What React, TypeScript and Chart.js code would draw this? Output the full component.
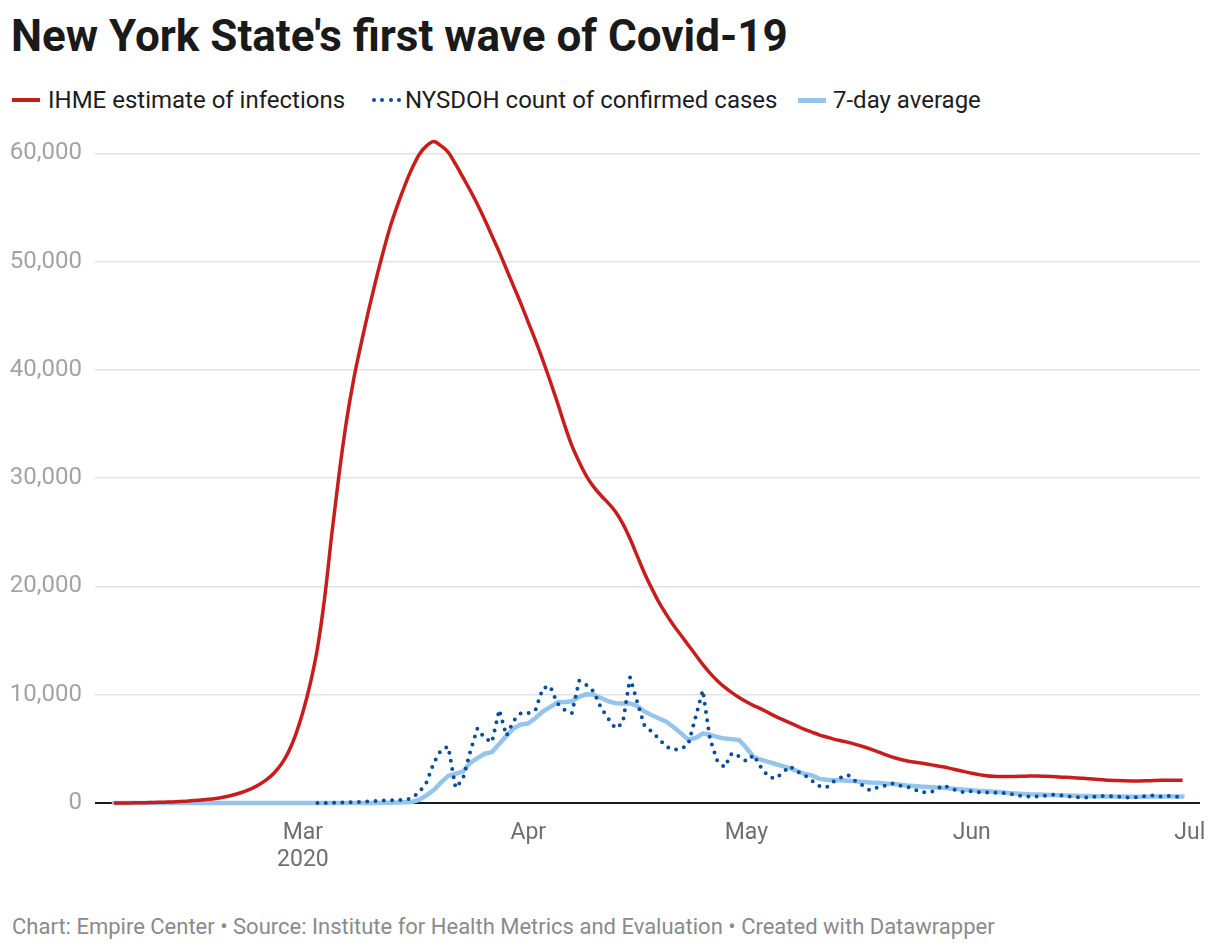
import React, { useEffect, useRef } from "react";
import { Chart, registerables } from "chart.js";

Chart.register(...registerables);

// ---------- DATA ----------
const axisOrigin = "2020-02-01"; // day 0 of the x axis

const ihmeStart = "2020-02-04";
const ihmeEstimate = [
  0, 0, 10, 20, 30, 40, 60, 80,
  100, 130, 170, 220, 280, 340, 420, 530, 670, 850,
  1070, 1350, 1700, 2150, 2750, 3550, 4700, 6300, 8400, 11000,
  14300, 19000, 25000, 30500, 35300, 39200, 42400, 45400, 48200, 50800,
  53200, 55200, 57000, 58600, 59900, 60700, 61100, 60700, 60100, 59000,
  57800, 56600, 55300, 53900, 52400, 50900, 49300, 47700, 46100, 44400,
  42700, 40900, 39000, 37000, 34900, 33000, 31500, 30200, 29200, 28400,
  27700, 26900, 25800, 24400, 22800, 21200, 19800, 18500, 17400, 16400,
  15500, 14600, 13700, 12800, 12000, 11300, 10700, 10200, 9750, 9350,
  9000, 8700, 8350, 8000, 7700, 7400, 7100, 6800, 6550, 6300,
  6100, 5900, 5750, 5600, 5420, 5220, 5000, 4750, 4500, 4260,
  4060, 3900, 3790, 3690, 3580, 3460, 3340, 3200, 3050, 2900,
  2750, 2620, 2520, 2460, 2440, 2440, 2450, 2470, 2490, 2490,
  2470, 2440, 2400, 2370, 2330, 2290, 2250, 2200, 2150, 2100,
  2070, 2050, 2040, 2040, 2050, 2070, 2090, 2100, 2100, 2100,
];

const nysdohStart = "2020-03-03";
const nysdohCases = [
  0, 10, 20, 30, 50, 80, 110, 150, 190, 220,
  250, 280, 300, 450, 1000, 1900, 3700, 4900, 5200, 1400,
  2200, 4700, 6900, 6000, 5600, 8600, 6200, 7600, 8300, 8300,
  8600, 10600, 10800, 9200, 8600, 8300, 11300, 10900, 10300, 8800,
  7800, 6900, 7400, 11600, 9300, 7100, 6600, 5900, 5200, 4900,
  5000, 5400, 7900, 10400, 5900, 3900, 3300, 4600, 4300, 3850,
  4450, 3300, 2450, 2250, 2800, 3400, 2900, 2590, 2060, 1570,
  1420, 1970, 2340, 2590, 2030, 1630, 1170, 1420, 1600, 1820,
  1600, 1540, 1300, 1000, 960, 1140, 1630, 1390, 1140, 960,
  1100, 1000, 960, 960, 950, 880, 740, 620, 590, 610,
  670, 760, 720, 640, 560, 530, 500, 600, 650, 640,
  590, 520, 490, 560, 640, 710, 600, 650, 620, 430,
];

const averageStart = "2020-02-04";
const sevenDayAverage = [
  0, 0, 0, 0, 0, 0, 0, 0,
  0, 0, 0, 0, 0, 0, 0, 0, 0, 0,
  0, 0, 0, 0, 0, 0, 0, 0, 0, 0,
  0, 0, 0, 0, 0, 0, 0, 0, 10, 20,
  30, 50, 70, 100, 300, 700, 1200, 1900, 2500, 2700,
  2900, 3700, 4150, 4550, 4700, 5450, 6200, 6900, 7250, 7350,
  7850, 8450, 8850, 9300, 9320, 9400, 9800, 10050, 10000, 9700,
  9400, 9220, 9200, 9200, 8950, 8450, 8100, 7800, 7500, 7000,
  6450, 5850, 6000, 6420, 6300, 6100, 5950, 5900, 5820, 5100,
  4250, 4000, 3800, 3600, 3400, 3200, 2950, 2700, 2550, 2250,
  2150, 2100, 2100, 2050, 2000, 1950, 1900, 1870, 1800, 1750,
  1700, 1620, 1580, 1520, 1480, 1440, 1400, 1350, 1300, 1230,
  1170, 1120, 1080, 1040, 1000, 930, 880, 840, 800, 780,
  760, 740, 720, 700, 670, 650, 640, 620, 610, 600,
  590, 590, 585, 585, 585, 590, 600, 600, 600, 600,
];

const monthTickDates = ["2020-03-01", "2020-04-01", "2020-05-01", "2020-06-01", "2020-07-01"];
const monthTickLabels: (string | string[])[] = [["Mar", "2020"], "Apr", "May", "Jun", "Jul"];
const yTickValues = [0, 10000, 20000, 30000, 40000, 50000, 60000];

const seriesNames = ["IHME estimate of infections", "NYSDOH count of confirmed cases", "7-day average"];
const seriesColors = ["#c71e1d", "#0b4f9c", "#96c5ec"];

// ---------- HELPERS ----------
const DAY = 86400000;
const dayIndex = (iso: string) => (Date.parse(iso + "T00:00:00Z") - Date.parse(axisOrigin + "T00:00:00Z")) / DAY;
const toPoints = (start: string, values: number[]) => {
  const s = dayIndex(start);
  return values.map((v, i) => ({ x: s + i, y: v }));
};

const FONT = "Roboto, 'Noto Sans', sans-serif";

export default function App() {
  const canvasRef = useRef<HTMLCanvasElement | null>(null);

  useEffect(() => {
    document.body.style.margin = "0";
    const canvas = canvasRef.current;
    if (!canvas) return;
    const tickDays = monthTickDates.map(dayIndex);
    const chart = new Chart(canvas, {
      type: "line",
      data: {
        datasets: [
          {
            label: seriesNames[0],
            data: toPoints(ihmeStart, ihmeEstimate),
            borderColor: seriesColors[0],
            borderWidth: 3.5,
            pointRadius: 0,
            cubicInterpolationMode: "monotone",
            clip: false as any,
            order: 1,
          },
          {
            label: seriesNames[1],
            data: toPoints(nysdohStart, nysdohCases),
            borderColor: seriesColors[1],
            borderWidth: 4,
            borderDash: [0, 8.3],
            borderCapStyle: "round",
            borderJoinStyle: "round",
            pointRadius: 0,
            tension: 0,
            clip: false as any,
            order: 2,
          },
          {
            label: seriesNames[2],
            data: toPoints(averageStart, sevenDayAverage),
            borderColor: seriesColors[2],
            borderWidth: 4.5,
            borderJoinStyle: "round",
            borderCapStyle: "round",
            pointRadius: 0,
            tension: 0,
            clip: false as any,
            order: 3,
          },
        ],
      },
      options: {
        animation: false,
        responsive: false,
        maintainAspectRatio: false,
        layout: { padding: { left: 0, right: 20, top: 19, bottom: 0 } },
        plugins: { legend: { display: false }, tooltip: { enabled: false } },
        scales: {
          x: {
            type: "linear",
            min: 0.4,
            max: 152.4,
            grid: { display: false },
            border: { display: false },
            afterBuildTicks: (scale: any) => {
              scale.ticks = tickDays.map((v) => ({ value: v }));
            },
            afterFit: (scale: any) => {
              scale.height = 87;
            },
            ticks: {
              autoSkip: false,
              maxRotation: 0,
              padding: 8,
              color: "#6f6f6f",
              font: { family: FONT, size: 23 },
              callback: (_v: any, i: number) => monthTickLabels[i],
            },
          },
          y: {
            min: 0,
            max: 60000,
            afterBuildTicks: (scale: any) => {
              scale.ticks = yTickValues.map((v) => ({ value: v }));
            },
            afterFit: (scale: any) => {
              scale.width = 95;
            },
            border: { display: false },
            grid: {
              drawTicks: false,
              color: (ctx: any) => (ctx.tick && ctx.tick.value === 0 ? "#1a1a1a" : "#e3e3e3"),
              lineWidth: (ctx: any) => (ctx.tick && ctx.tick.value === 0 ? 2 : 1.5),
            },
            ticks: {
              padding: 13,
              color: "#a3a3a3",
              font: { family: FONT, size: 24 },
              callback: (v: any) => Number(v).toLocaleString("en-US"),
            },
          },
        },
      },
    });
    return () => chart.destroy();
  }, []);

  const legendText: React.CSSProperties = {
    position: "absolute",
    top: 85,
    fontSize: 24,
    lineHeight: "30px",
    color: "#1d1d1d",
    whiteSpace: "nowrap",
  };

  return (
    <div style={{ position: "relative", width: 1220, height: 952, background: "#fff", fontFamily: FONT, overflow: "hidden" }}>
      <div
        style={{
          position: "absolute",
          left: 11,
          top: 14,
          fontSize: 44,
          lineHeight: "44px",
          fontWeight: 700,
          color: "#1a1a1a",
          whiteSpace: "nowrap",
        }}
      >
        New York State's first wave of Covid-19
      </div>

      {/* legend */}
      <div style={{ position: "absolute", left: 12, top: 98, width: 28, height: 4, background: seriesColors[0] }} />
      <div style={{ ...legendText, left: 48 }}>{seriesNames[0]}</div>
      <div style={{ position: "absolute", left: 372, top: 98, width: 30, height: 4, display: "flex", gap: 4.3 }}>
        {[0, 1, 2, 3].map((i) => (
          <div key={i} style={{ width: 4, height: 4, borderRadius: 2, background: seriesColors[1] }} />
        ))}
      </div>
      <div style={{ ...legendText, left: 405 }}>{seriesNames[1]}</div>
      <div style={{ position: "absolute", left: 798, top: 98, width: 28, height: 5, background: seriesColors[2] }} />
      <div style={{ ...legendText, left: 833 }}>{seriesNames[2]}</div>

      <canvas
        ref={canvasRef}
        width={1220}
        height={764}
        style={{ position: "absolute", left: 0, top: 126, width: 1220, height: 764 }}
      />

      <div
        style={{
          position: "absolute",
          left: 12,
          top: 912,
          fontSize: 22,
          lineHeight: "30px",
          color: "#8a8a8a",
          whiteSpace: "nowrap",
        }}
      >
        Chart: Empire Center • Source: Institute for Health Metrics and Evaluation • Created with Datawrapper
      </div>
    </div>
  );
}
